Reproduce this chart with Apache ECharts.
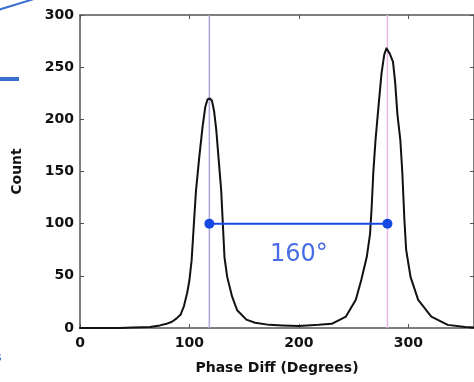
<!DOCTYPE html>
<html>
<head>
<meta charset="utf-8">
<script src="https://cdn.jsdelivr.net/npm/echarts@6/dist/echarts.min.js"></script>
<style>
html,body{margin:0;padding:0;background:#fff;}
#chart{width:474px;height:382px;}
</style>
</head>
<body>
<div id="chart"></div>
<script>
// Phase difference (degrees) and histogram counts
var phaseX = [0, 36, 48, 64, 73, 79, 84, 88, 92, 95, 98, 100, 102, 104, 106, 109, 112, 114.5, 116.5, 118.5, 120.5, 122.5, 124.5, 126.5, 129, 130.5, 132, 134.5, 139, 143.6, 152, 160, 173, 185, 200, 218, 230, 243, 252, 257, 262, 265, 266.5, 268, 270, 272.7, 275.5, 278, 280, 283, 286, 288, 290, 292.7, 294.5, 296.4, 298, 302, 309, 321, 336, 352, 360];
var counts = [0, 0, 0.5, 1, 2.5, 4, 6, 9, 13, 21, 34, 46, 65, 99, 132, 164, 193, 212, 219, 220, 218, 208, 190, 164, 132, 100, 68, 49, 30, 17, 8, 5, 3, 2.5, 2, 3, 4, 11, 27, 46, 68, 90, 116, 149, 180, 212, 244, 262, 268, 263, 255, 235, 205, 180, 149, 104, 75, 49, 27, 11, 3, 1, 0.5];
var peakA = 118.2;
var peakB = 280.9;
var connectorY = 100;
var sepLabel = '160°';

var curve = phaseX.map(function (x, i) { return [x, counts[i]]; });

var chart = echarts.init(document.getElementById('chart'), null, {renderer: 'canvas'});
var labelFont = {fontFamily: 'DejaVu Sans', fontWeight: 'bold', fontSize: 14, color: '#111'};
var axisLineStyle = {color: '#555', width: 1.5};
var tickStyle = {show: true, inside: true, length: 4, lineStyle: {color: '#555', width: 1}};

chart.setOption({
  animation: false,
  backgroundColor: '#fff',
  grid: {left: 80, top: 15, width: 396, height: 313, containLabel: false},
  xAxis: [{
    type: 'value', min: 0, max: 360, interval: 100,
    name: 'Phase Diff (Degrees)', nameLocation: 'middle', nameGap: 33,
    nameTextStyle: labelFont,
    axisLine: {show: true, onZero: false, lineStyle: axisLineStyle},
    axisTick: tickStyle,
    axisLabel: Object.assign({margin: 8, showMaxLabel: false}, labelFont),
    splitLine: {show: false}
  }, {
    type: 'value', min: 0, max: 360, interval: 100, position: 'top',
    axisLine: {show: true, onZero: false, lineStyle: axisLineStyle},
    axisTick: tickStyle,
    axisLabel: {show: false}, splitLine: {show: false}
  }],
  yAxis: [{
    type: 'value', min: 0, max: 300, interval: 50,
    name: 'Count', nameLocation: 'middle', nameGap: 56, nameRotate: 90,
    nameTextStyle: labelFont,
    axisLine: {show: true, onZero: false, lineStyle: axisLineStyle},
    axisTick: tickStyle,
    axisLabel: Object.assign({margin: 6}, labelFont),
    splitLine: {show: false}
  }, {
    type: 'value', min: 0, max: 300, interval: 50, position: 'right',
    axisLine: {show: true, onZero: false, lineStyle: axisLineStyle},
    axisTick: tickStyle,
    axisLabel: {show: false}, splitLine: {show: false}
  }],
  series: [{
    type: 'line', data: [[peakA, 0], [peakA, 300]], symbol: 'none',
    lineStyle: {color: '#aaa4d8', width: 1.5}, z: 1
  }, {
    type: 'line', data: [[peakB, 0], [peakB, 300]], symbol: 'none',
    lineStyle: {color: '#e6b6e6', width: 1.5}, z: 1
  }, {
    type: 'line', data: curve, symbol: 'none', smooth: false,
    lineStyle: {color: '#111', width: 2, join: 'round', cap: 'round'}, z: 3
  }, {
    type: 'line', data: [[peakA, connectorY], [peakB, connectorY]],
    symbol: 'circle', symbolSize: 10, showAllSymbol: true,
    itemStyle: {color: '#1648e2'}, lineStyle: {color: '#1648e2', width: 2}, z: 4
  }, {
    type: 'scatter', data: [[200, 70]], symbolSize: 0,
    label: {show: true, position: 'inside', formatter: sepLabel,
      fontFamily: 'DejaVu Sans', fontSize: 24, color: '#1a46e0'},
    z: 5
  }],
  graphic: [
    {type: 'line', shape: {x1: -2, y1: 10, x2: 34, y2: -1}, style: {stroke: '#3a6fd0', lineWidth: 2}},
    {type: 'rect', shape: {x: 0, y: 77, width: 19, height: 4}, style: {fill: '#3a6fd0'}},
    {type: 'text', left: -5, top: 351, style: {text: 's', fill: '#3a6fd0', font: '13px DejaVu Sans'}}
  ]
});
</script>
</body>
</html>
